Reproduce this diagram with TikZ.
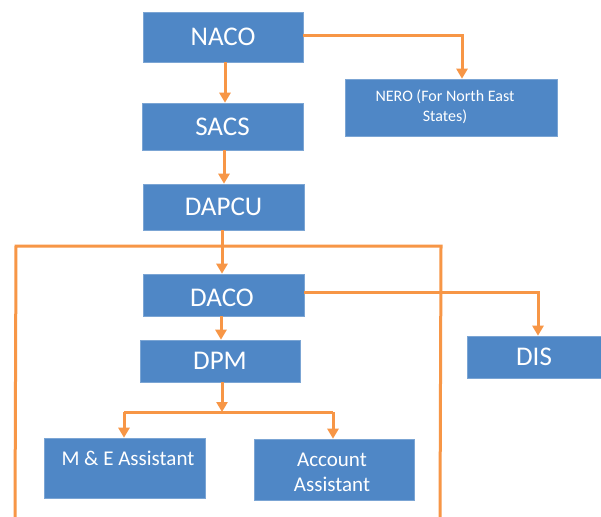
\documentclass[tikz,border=0pt]{standalone}
\usepackage{fontspec}
\setmainfont{Carlito}
\usetikzlibrary{arrows.meta}
\definecolor{boxblue}{RGB}{79,135,198}
\definecolor{lineorange}{RGB}{247,150,70}
\begin{document}
\begin{tikzpicture}[x=1pt,y=-1pt,
  box/.style={fill=boxblue,draw=boxblue!75!white,line width=0.6pt,text=white,inner sep=0pt,align=center},
  conn/.style={draw=lineorange,line width=3pt},
  arr/.style={conn,-{Triangle[width=11pt,length=10pt]}},
  bigfont/.style={font=\fontsize{27}{30}\selectfont},
  midfont/.style={font=\fontsize{21}{25}\selectfont},
  smallfont/.style={font=\fontsize{16}{20}\selectfont}]
\useasboundingbox (0,0) rectangle (601,516);
\fill[white] (0,0) rectangle (601,516);
% boxes
\node[box,bigfont,minimum width=160pt,minimum height=50pt] (naco) at (223,37) {NACO};
\node[box,bigfont,minimum width=161pt,minimum height=47pt] (sacs) at (222.5,126.5) {SACS};
\node[box,bigfont,minimum width=161pt,minimum height=46pt] (dapcu) at (223.5,207) {DAPCU};
\node[box,minimum width=212pt,minimum height=57pt] (nero) at (451,107.5) {};
\node[text=white,smallfont,align=center] (nerotext) at (445,107) {NERO (For North East\\States)};
\node[box,minimum width=161pt,minimum height=42pt] (daco) at (223.5,295) {};
\node[text=white,bigfont] (dacotext) at (222,298) {DACO};
\node[box,bigfont,minimum width=134pt,minimum height=42pt] (dis) at (534,357) {DIS};
\node[box,bigfont,minimum width=160pt,minimum height=42pt] (dpm) at (220,361) {DPM};
\node[box,minimum width=161pt,minimum height=60pt] (me) at (124.5,468) {};
\node[text=white,midfont,anchor=west] (metext) at (58,458) {M \& E Assistant};
\node[box,minimum width=160pt,minimum height=61pt] (acc) at (334,469.5) {};
\node[text=white,midfont,align=center] (acctext) at (332,472) {Account\\Assistant};
% frame lines from DAPCU
\coordinate (tl) at (16,246);
\coordinate (tr) at (441,246);
\coordinate (bl) at (15,517);
\coordinate (br) at (440,517);
\draw[conn] (bl) -- (tl) -- (tr) -- (br);
% connectors
\draw[arr] ([xshift=2pt]naco.south) -- ([xshift=2.5pt]sacs.north);
\draw[arr] ([xshift=1.5pt]sacs.south) -- ([xshift=0.5pt]dapcu.north);
\draw[arr] ([yshift=1pt]naco.east) -| ([xshift=11pt]nero.north);
\draw[arr] ([xshift=-1.5pt]dapcu.south) -- ([xshift=-1.5pt]daco.north);
\draw[arr] ([yshift=3pt]daco.east) -| ([xshift=4pt]dis.north);
\draw[arr] ([xshift=-2.5pt]daco.south) -- ([xshift=1pt]dpm.north);
\coordinate (j) at (222,412);
\coordinate (jl) at (124,412);
\coordinate (jr) at (333,412);
\draw[arr] ([xshift=2pt]dpm.south) -- (j);
\draw[conn] (jl) -- (jr);
\draw[arr] (jl) -- (jl |- me.north);
\draw[arr] (jr) -- (jr |- acc.north);
\end{tikzpicture}
\end{document}
